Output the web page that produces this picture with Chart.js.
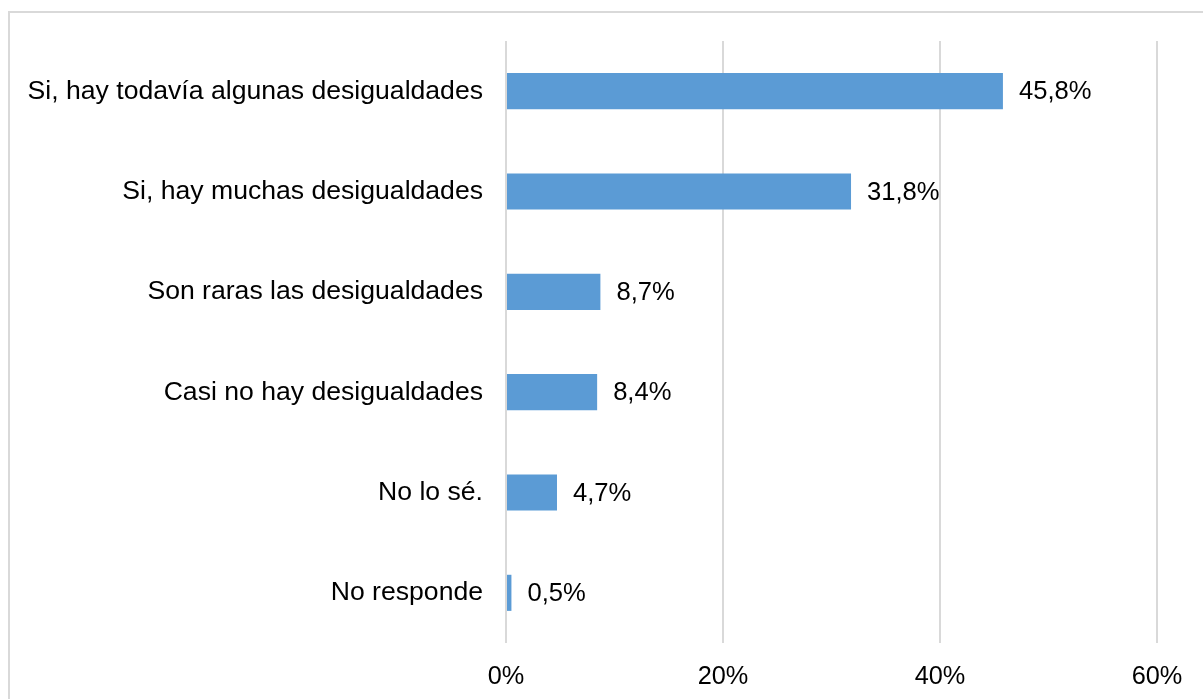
<!DOCTYPE html>
<html>
<head>
<meta charset="utf-8">
<script src="https://cdn.jsdelivr.net/npm/chart.js@4.4.0/dist/chart.umd.min.js"></script>
<style>
  html, body { margin: 0; padding: 0; background: #fff; overflow: hidden; }
  #frame { position: absolute; left: 8px; top: 11px; width: 1300px; height: 800px; border: 2px solid #d9d9d9; box-sizing: border-box; }
  #wrap { position: absolute; left: 0; top: 0; width: 1203px; height: 699px; }
</style>
</head>
<body>
<div id="frame"></div>
<div id="wrap"><canvas id="c" width="1203" height="699"></canvas></div>
<script>
const categories = [
  "Si, hay todavía algunas desigualdades",
  "Si, hay muchas desigualdades",
  "Son raras las desigualdades",
  "Casi no hay desigualdades",
  "No lo sé.",
  "No responde"
];
const values = [45.8, 31.8, 8.7, 8.4, 4.7, 0.5];
const tickValues = [0, 20, 40, 60];

const FONT = "'Liberation Sans', Arial, sans-serif";

const valueLabels = {
  id: 'valueLabels',
  afterDatasetsDraw(chart) {
    const ctx = chart.ctx;
    const meta = chart.getDatasetMeta(0);
    ctx.save();
    ctx.font = "25.6px " + FONT;
    ctx.fillStyle = "#000";
    ctx.textAlign = "left";
    ctx.textBaseline = "middle";
    meta.data.forEach((bar, i) => {
      const txt = values[i].toFixed(1).replace('.', ',') + '%';
      ctx.fillText(txt, bar.x + 16, bar.y + 1);
    });
    ctx.restore();
  }
};

new Chart(document.getElementById('c'), {
  type: 'bar',
  data: {
    labels: categories,
    datasets: [{
      data: values,
      backgroundColor: '#5B9BD5',
      borderWidth: 0,
      categoryPercentage: 1,
      barPercentage: 0.36
    }]
  },
  options: {
    indexAxis: 'y',
    responsive: false,
    animation: false,
    events: [],
    layout: { padding: { left: 0, right: 46, top: 41, bottom: 0 } },
    plugins: { legend: { display: false }, tooltip: { enabled: false } },
    scales: {
      x: {
        min: 0, max: 60,
        afterBuildTicks(scale) { scale.ticks = tickValues.map(v => ({ value: v })); },
        afterFit(scale) { scale.height = 56; },
        grid: { color: '#d9d9d9', lineWidth: 2, drawTicks: false },
        border: { display: false },
        ticks: {
          padding: 19,
          color: '#000',
          font: { family: FONT, size: 25.3 },
          callback: v => v + '%'
        }
      },
      y: {
        afterFit(scale) { scale.width = 506; },
        grid: { display: false, drawTicks: false },
        border: { display: false },
        ticks: {
          padding: 23,
          color: '#000',
          font: { family: FONT, size: 26.6 }
        }
      }
    }
  },
  plugins: [valueLabels]
});
</script>
</body>
</html>
